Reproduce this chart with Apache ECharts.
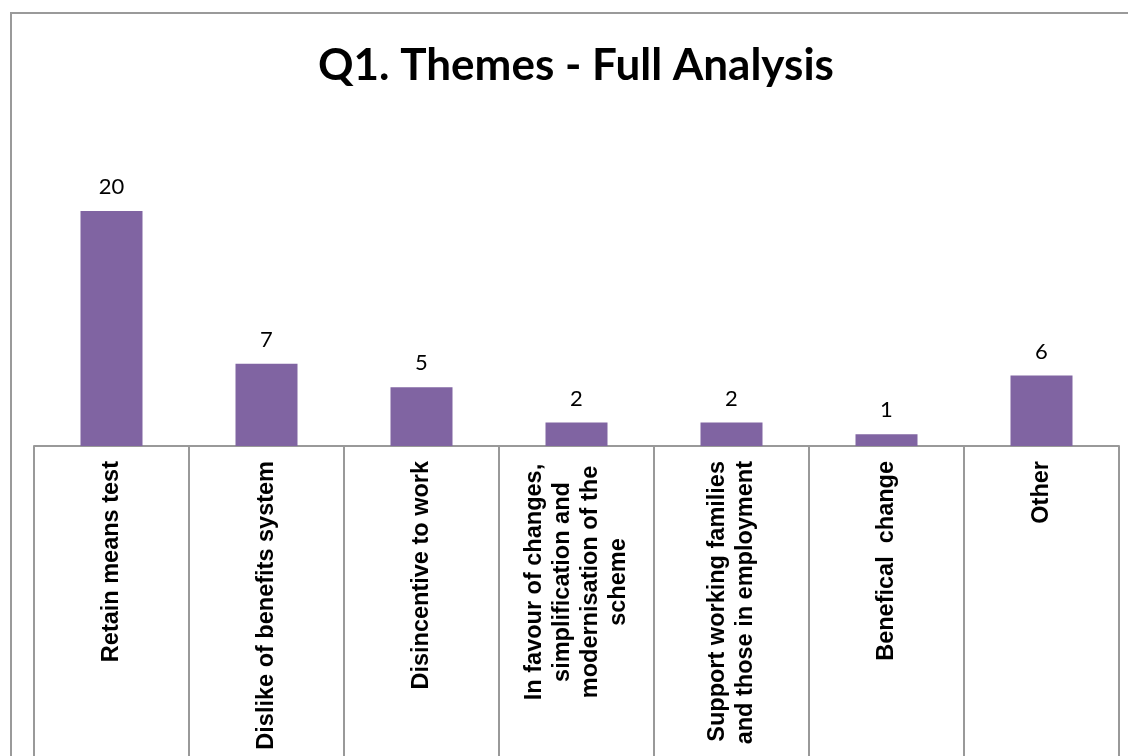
<!DOCTYPE html>
<html>
<head>
<meta charset="utf-8">
<script src="https://cdn.jsdelivr.net/npm/echarts@6/dist/echarts.min.js"></script>
<style>
html,body{margin:0;padding:0;background:#fff;}
#chart{width:1128px;height:756px;}
</style>
</head>
<body>
<div id="chart"></div>
<script>
var titleText = 'Q1. Themes - Full Analysis';
var categories = [
  'Retain means test',
  'Dislike of benefits system',
  'Disincentive to work',
  'In favour of changes,\nsimplification and\nmodernisation of the\nscheme',
  'Support working families\nand those in employment',
  'Benefical  change',
  'Other'
];
var values = [20, 7, 5, 2, 2, 1, 6];

var chart = echarts.init(document.getElementById('chart'));
chart.setOption({
  animation: false,
  backgroundColor: '#ffffff',
  title: {
    text: titleText,
    left: 318,
    top: 44,
    padding: 0,
    textStyle: {fontFamily: 'Lato', fontWeight: 'bold', fontSize: 44, color: '#000'}
  },
  graphic: [{
    type: 'rect',
    shape: {x: 11, y: 13, width: 1300, height: 1000},
    style: {fill: 'none', stroke: '#9a9a9a', lineWidth: 2},
    silent: true
  }],
  grid: {left: 34, right: 9, top: 211, bottom: 310},
  xAxis: {
    type: 'category',
    data: categories,
    boundaryGap: true,
    axisLine: {show: true, lineStyle: {color: '#999', width: 2}},
    axisTick: {show: true, interval: 0, length: 320, lineStyle: {color: '#999', width: 2}},
    axisLabel: {
      interval: 0,
      rotate: 90,
      margin: 15,
      color: '#000',
      fontFamily: 'Liberation Sans',
      fontWeight: 'bold',
      fontSize: 23.5,
      lineHeight: 28,
      formatter: function (v) {
        if (v.indexOf('In favour') === 0) {
          return v.split('\n').map(function (l) { return '{c|' + l + '}'; }).join('\n');
        }
        return v;
      },
      rich: {
        c: {width: 242, align: 'center', fontFamily: 'Liberation Sans', fontWeight: 'bold', fontSize: 23.5, lineHeight: 28, color: '#000'}
      }
    }
  },
  yAxis: {
    type: 'value',
    min: 0,
    max: 20,
    show: false,
    splitLine: {show: false}
  },
  series: [{
    type: 'bar',
    data: values,
    barWidth: '40%',
    itemStyle: {color: '#8064A2'},
    label: {
      show: true,
      position: 'top',
      distance: 13,
      color: '#000',
      fontFamily: 'Lato',
      fontSize: 22
    }
  }]
});
</script>
</body>
</html>
